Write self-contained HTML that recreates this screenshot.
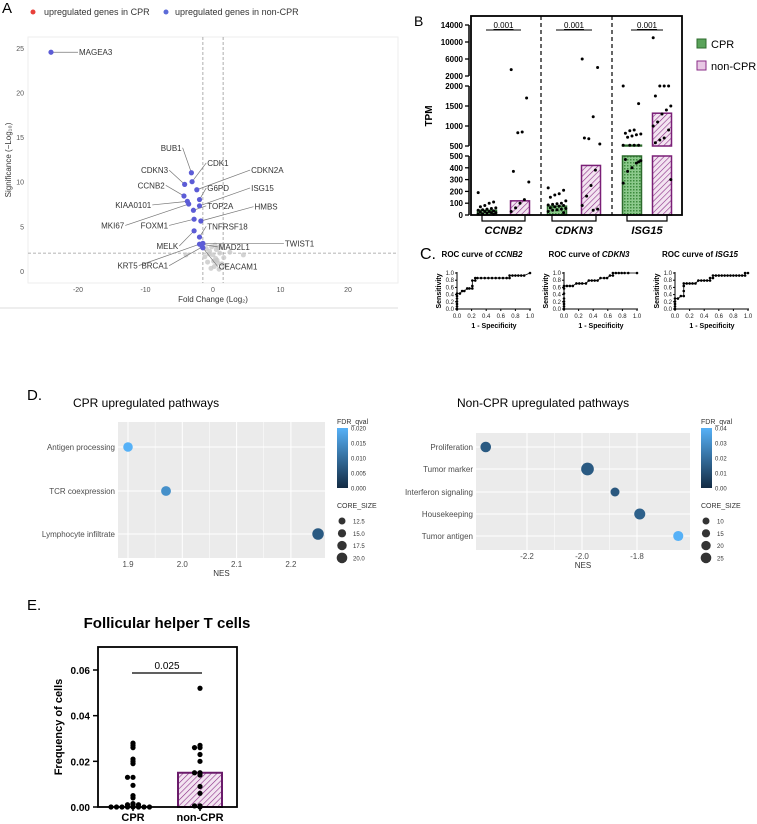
<!DOCTYPE html>
<html><head><meta charset="utf-8">
<style>
html,body{margin:0;padding:0;background:#fff;}
svg{display:block;font-family:"Liberation Sans",Arial,sans-serif;}
</style></head>
<body>
<svg id="fig" width="757" height="824" viewBox="0 0 757 824" xmlns="http://www.w3.org/2000/svg">
<text x="2" y="13" font-size="15">A</text>
<circle cx="33" cy="12" r="2.5" fill="#e8403a"/>
<text x="44" y="15" font-size="9" fill="#333">upregulated genes in CPR</text>
<circle cx="166" cy="12" r="2.5" fill="#5c6bd8"/>
<text x="175" y="15" font-size="9" fill="#333">upregulated genes in non-CPR</text>
<rect x="28" y="37" width="370" height="246" fill="#fff" stroke="#eee"/>
<line x1="0" y1="308" x2="398" y2="308" stroke="#ddd"/>
<g id="volcano"></g>
<text x="213" y="302" font-size="8" fill="#333" text-anchor="middle">Fold Change (Log₂)</text>
<text transform="translate(11,160) rotate(-90)" font-size="8" fill="#333" text-anchor="middle">Significance (−Log₁₀)</text>

<text x="414" y="26" font-size="14">B</text>
<g id="barB"></g>
<text transform="translate(432,116) rotate(-90)" font-size="10" font-weight="bold" text-anchor="middle">TPM</text>
<rect x="697" y="39" width="9" height="9" fill="#5aa35a" stroke="#2d6b2d"/>
<text x="711" y="48" font-size="11">CPR</text>
<rect x="697" y="61" width="9" height="9" fill="#e8c8e4" stroke="#8a2d87"/>
<text x="711" y="70" font-size="11">non-CPR</text>

<text x="420" y="259" font-size="16">C.</text>
<g id="roc"></g>

<text x="27" y="400" font-size="15">D.</text>
<text x="73" y="407" font-size="12">CPR upregulated pathways</text>
<text x="457" y="407" font-size="12">Non-CPR upregulated pathways</text>
<g id="dots"></g>

<text x="27" y="610" font-size="15">E.</text>
<text x="167" y="628" font-size="15" font-weight="bold" text-anchor="middle">Follicular helper T cells</text>
<g id="tfh"></g>
<text transform="translate(62,727) rotate(-90)" font-size="11" font-weight="bold" text-anchor="middle">Frequency of cells</text>

<defs>
<pattern id="hatchP" width="4" height="4" patternUnits="userSpaceOnUse" patternTransform="rotate(45)">
<rect width="4" height="4" fill="#f3e4f1"/><line x1="0" y1="0" x2="0" y2="4" stroke="#8a2d87" stroke-width="1.2"/></pattern>
<pattern id="checkG" width="3" height="3" patternUnits="userSpaceOnUse">
<rect width="3" height="3" fill="#8cc98c"/><rect width="1.5" height="1.5" fill="#3d8a3d"/></pattern>
<linearGradient id="fdrGrad" x1="0" y1="1" x2="0" y2="0"><stop offset="0" stop-color="#132b43"/><stop offset="1" stop-color="#56b1f7"/></linearGradient>
</defs>
</svg>
<script>
const volcanoGenes = ["MAGEA3","BUB1","CDK1","CDKN3","CDKN2A","CCNB2","G6PD","KIAA0101","ISG15","TOP2A","MKI67","FOXM1","HMBS","MELK","TNFRSF18","TWIST1","MAD2L1","KRT5","BRCA1","CEACAM1"];
const volcanoFC = [-24,-3.2,-3.1,-4.2,-2.4,-4.3,-2.0,-3.8,-2.0,-2.9,-3.6,-2.8,-1.8,-2.8,-2.0,-1.5,-1.7,-2.0,-1.6,-1.5];
const volcanoSig = [24.5,11,10,9.7,9.1,8.4,8.0,7.8,7.3,6.8,7.5,5.8,5.6,4.5,3.8,3.1,3.0,3.0,2.7,2.6];
const volcanoLabelFC = [-20,-4.5,-1,-6.5,5.5,-7,-1,-9,5.5,-1,-13,-6.5,6,-5,-1,10.5,0.7,-11,-6.5,0.7];
const volcanoLabelSig = [24.5,13.8,12.1,11.3,11.3,9.6,9.3,7.4,9.3,7.3,5.1,5.1,7.2,2.8,5.0,3.1,2.7,0.6,0.6,0.5];
const grayFC = [-1,-0.5,0,0.3,0.6,1,1.3,-0.8,0.2,0.8,1.6,-0.3,0.5,-1.2,2.5,4.5,0.9,-0.6,0.1,1.1,-4,0.4,1.8,-0.2,0.7];
const graySig = [2.5,2.2,1.8,2.9,1.2,2.0,0.8,1.0,0.5,2.6,1.5,0.3,2.4,1.6,2.1,1.8,0.2,1.9,1.1,2.8,1.8,1.4,0.6,2.7,0.9];
const volcanoXTicks = [-20,-10,0,10,20];
const volcanoYTicks = [0,5,10,15,20,25];

const genesB = ["CCNB2","CDKN3","ISG15"];
const barCPR = [40,75,520];
const barNon = [120,420,1320];
const dotsCPR = [
 [190,110,100,80,70,60,55,50,45,40,35,30,30,25,20,20,15,10,10,5],
 [230,210,180,170,150,120,100,95,90,85,80,75,70,60,55,50,45,40,30,20],
 [2000,1560,900,880,820,800,780,750,720,520,520,520,520,470,460,440,400,370,270,450]
];
const dotsNon = [
 [3500,1700,850,830,370,280,130,100,60,30],
 [6000,4000,1230,680,700,550,380,250,160,80,50,40],
 [11000,2000,2000,2000,1750,1500,1400,1300,1100,1000,900,700,650,580,300]
];
const pValuesB = ["0.001","0.001","0.001"];
const tickTop = [2000,6000,10000,14000];
const tickMid = [500,1000,1500,2000];
const tickLow = [0,100,200,300,400,500];

const rocGenes = ["CCNB2","CDKN3","ISG15"];
const rocFPR = [
 [0,0,0,0,0,0,0,0.04,0.07,0.1,0.14,0.17,0.21,0.21,0.21,0.25,0.25,0.28,0.33,0.38,0.43,0.48,0.53,0.58,0.63,0.68,0.72,0.72,0.76,0.8,0.84,0.88,0.92,1.0],
 [0,0,0,0,0,0,0,0,0.04,0.08,0.12,0.17,0.21,0.25,0.3,0.34,0.38,0.42,0.46,0.5,0.55,0.59,0.63,0.67,0.67,0.71,0.75,0.79,0.83,0.88,1.0],
 [0,0,0,0,0,0.04,0.08,0.12,0.12,0.12,0.12,0.16,0.2,0.24,0.28,0.32,0.36,0.4,0.44,0.48,0.48,0.52,0.52,0.56,0.6,0.64,0.68,0.72,0.76,0.8,0.84,0.88,0.92,0.96,0.96,1.0]
];
const rocTPR = [
 [0,0.07,0.14,0.21,0.29,0.36,0.43,0.43,0.5,0.5,0.57,0.57,0.57,0.64,0.79,0.79,0.86,0.86,0.86,0.86,0.86,0.86,0.86,0.86,0.86,0.86,0.86,0.93,0.93,0.93,0.93,0.93,0.93,1.0],
 [0,0.07,0.14,0.21,0.29,0.43,0.57,0.64,0.64,0.64,0.64,0.71,0.71,0.71,0.71,0.79,0.79,0.79,0.79,0.86,0.86,0.86,0.93,0.93,1.0,1.0,1.0,1.0,1.0,1.0,1.0],
 [0,0.07,0.14,0.21,0.29,0.29,0.36,0.36,0.5,0.64,0.71,0.71,0.71,0.71,0.71,0.79,0.79,0.79,0.79,0.79,0.86,0.86,0.93,0.93,0.93,0.93,0.93,0.93,0.93,0.93,0.93,0.93,0.93,0.93,1.0,1.0]
];
const rocTicks = [0,0.2,0.4,0.6,0.8,1.0];

const cprPathways = ["Antigen processing","TCR coexpression","Lymphocyte infiltrate"];
const cprNES = [1.9,1.97,2.25];
const cprFDR = [0.02,0.015,0.007];
const cprSize = [12,13,20];
const cprXTicks = [1.9,2.0,2.1,2.2];
const nonPathways = ["Proliferation","Tumor marker","Interferon signaling","Housekeeping","Tumor antigen"];
const nonNES = [-2.35,-1.98,-1.88,-1.79,-1.65];
const nonFDR = [0.014,0.014,0.013,0.016,0.04];
const nonSize = [16,26,10,18,14];
const nonXTicks = [-2.2,-2.0,-1.8];

const tfhGroups = ["CPR","non-CPR"];
const tfhBars = [0,0.015];
const tfhCPR = [0.028,0.027,0.026,0.021,0.02,0.019,0.013,0.013,0.0095,0.005,0.004,0.0015,0.0012,0.001,0.001,0.0005,0,0,0,0,0,0,0,0];
const tfhNon = [0.052,0.027,0.026,0.026,0.023,0.02,0.015,0.015,0.014,0.009,0.006,0.0005,0.0005,0];
const tfhTicks = [0,0.02,0.04,0.06];
const tfhP = "0.025";

const NS="http://www.w3.org/2000/svg";
function mk(parent,tag,attrs,text){const e=document.createElementNS(NS,tag);for(const k in attrs)e.setAttribute(k,attrs[k]);if(text!==undefined)e.textContent=text;parent.appendChild(e);return e;}

(function(){
 const g=document.getElementById('volcano');
 const x=v=>213+v*6.75, y=v=>271-v*8.93;
 volcanoXTicks.forEach(t=>{const e=mk(g,'text',{x:x(t),y:292,'font-size':7,fill:'#555','text-anchor':'middle'},t);
  
  });
 volcanoYTicks.forEach(t=>{const e=mk(g,'text',{x:24,y:y(t)+3,'font-size':7,fill:'#555','text-anchor':'end'},t);
  
  });
 [[x(-1.5),37,x(-1.5),283],[x(1.5),37,x(1.5),283],[28,y(2),398,y(2)]].forEach(l=>{const e=mk(g,'line',{x1:l[0],y1:l[1],x2:l[2],y2:l[3],stroke:'#999','stroke-dasharray':'3,2','stroke-width':0.8});
  
  });
 grayFC.forEach((v,i)=>{const e=mk(g,'circle',{cx:x(v),cy:y(graySig[i]),r:2.5,fill:'#c8c8c8','fill-opacity':0.8});
  
  });
 volcanoGenes.forEach((n,i)=>{
  const px=x(volcanoFC[i]),py=y(volcanoSig[i]),lx=x(volcanoLabelFC[i]),ly=y(volcanoLabelSig[i]);
  const l=mk(g,'line',{x1:px,y1:py,x2:lx,y2:ly,stroke:'#777','stroke-width':0.7});
  
  
  const t=mk(g,'text',{x:lx+(volcanoLabelFC[i]<volcanoFC[i]?-1:1),y:ly+3,'font-size':8,fill:'#333','text-anchor':volcanoLabelFC[i]<volcanoFC[i]-0.5?'end':'start'},n);
  if(Math.abs(volcanoLabelFC[i]-volcanoFC[i])<=0.6&&volcanoLabelSig[i]>volcanoSig[i]){t.setAttribute('text-anchor','middle');t.setAttribute('y',ly-1);}
  
  
 });
 volcanoGenes.forEach((n,i)=>{const c=mk(g,'circle',{cx:x(volcanoFC[i]),cy:y(volcanoSig[i]),r:2.6,fill:'#5c5cd6'});
  
  });
})();

(function(){
 const g=document.getElementById('barB');
 const L=471,R=682,T=16,B=215;
 const yv=v=>{ if(v<=500) return 215-v*(59/500); if(v<=2000) return 146-(v-500)*(60/1500); return 76-(v-2000)*(17/4000);};
 const cx=[[487,520],[557,591],[632,662]], bw=19;
 genesB.forEach((gn,i)=>{
  [[barCPR[i],'url(#checkG)','#2d6b2d',cx[i][0],'bar-cpr-'],[barNon[i],'url(#hatchP)','#7a1f77',cx[i][1],'bar-noncpr-']].forEach(b=>{
   const v=b[0],c=b[3];
   const lo=Math.min(v,500);
   const r=mk(g,'rect',{x:c-bw/2,y:yv(lo),width:bw,height:215-yv(lo),fill:b[1],stroke:b[2],'stroke-width':1.5});
   
   
   if(v>500){const r2=mk(g,'rect',{x:c-bw/2,y:yv(v),width:bw,height:146-yv(v),fill:b[1],stroke:b[2],'stroke-width':1.5});
    
    }
  });
  [[dotsCPR[i],cx[i][0],'dot-cpr'],[dotsNon[i],cx[i][1],'dot-noncpr']].forEach(s=>{
   s[0].forEach((v,j)=>{const off=((j*7)%9-4)*2.2;
    const d=mk(g,'circle',{cx:s[1]+off,cy:yv(v),r:1.5,fill:'#000'});
    
    });
  });
  const p=mk(g,'line',{x1:cx[i][0]-1,y1:30,x2:cx[i][1]+1,y2:30,stroke:'#000'});
  
  
  const pt=mk(g,'text',{x:(cx[i][0]+cx[i][1])/2,y:28,'font-size':8,'text-anchor':'middle','text-decoration':'underline'},pValuesB[i]);
  
  
  const br=mk(g,'path',{d:`M${cx[i][0]-5},215 V221 H${cx[i][1]+5} V215`,fill:'none',stroke:'#000','stroke-width':1.2});
  
  
  const lb=mk(g,'text',{x:(cx[i][0]+cx[i][1])/2,y:234,'font-size':11,'font-weight':'bold','font-style':'italic','text-anchor':'middle'},gn);
  
  
 });
 const box=mk(g,'rect',{x:L,y:T,width:R-L,height:B-T,fill:'none',stroke:'#000','stroke-width':1.8});
 
 
 [541,612].forEach(xx=>{const d=mk(g,'line',{x1:xx,y1:T,x2:xx,y2:B,stroke:'#000','stroke-dasharray':'4,3','stroke-width':1.2});
  
  });
 mk(g,'rect',{x:462,y:T,width:8,height:B-T+2,fill:'#fff'});
 [[76,25],[146,86],[215,156]].forEach(s=>{const a=mk(g,'line',{x1:469,y1:s[0],x2:469,y2:s[1],stroke:'#000','stroke-width':1.5});
  
  });
 [[tickTop,v=>76-(v-2000)*(17/4000)],[tickMid,v=>146-(v-500)*(60/1500)],[tickLow,v=>215-v*(59/500)]].forEach(s=>{
  s[0].forEach(v=>{const yy=s[1](v);mk(g,'line',{x1:465,y1:yy,x2:469,y2:yy,stroke:'#000','stroke-width':1.3});
   const t=mk(g,'text',{x:463,y:yy+3,'font-size':8,'font-weight':'bold','text-anchor':'end'},v);
   
   });
 });
})();

(function(){
 const g=document.getElementById('roc');
 const origins=[457,564,675];
 rocGenes.forEach((gn,i)=>{
  const ox=origins[i], x=v=>ox+v*73, y=v=>309-v*36;
  const t=mk(g,'text',{x:ox+25,y:257,'font-size':8,'font-weight':'bold','text-anchor':'middle'});
  
  
  t.textContent='ROC curve of ';
  mk(t,'tspan',{'font-style':'italic'},gn);
  mk(g,'line',{x1:ox,y1:309,x2:ox,y2:272,stroke:'#000'});
  mk(g,'line',{x1:ox,y1:309,x2:ox+74,y2:309,stroke:'#000'});
  rocTicks.forEach(v=>{
   mk(g,'line',{x1:ox-2,y1:y(v),x2:ox,y2:y(v),stroke:'#000'});
   mk(g,'line',{x1:x(v),y1:309,x2:x(v),y2:311,stroke:'#000'});
   const a=mk(g,'text',{x:ox-3,y:y(v)+2,'font-size':6,'text-anchor':'end',fill:'#222'},v.toFixed(1));
   
   
   const b=mk(g,'text',{x:x(v),y:318,'font-size':6,'text-anchor':'middle',fill:'#222'},v.toFixed(1));
   
   
  });
  const yl=mk(g,'text',{transform:`translate(${ox-16},291) rotate(-90)`,'font-size':7,'font-weight':'bold','text-anchor':'middle'},'Sensitivity');
  
  
  const xl=mk(g,'text',{x:ox+37,y:328,'font-size':7,'font-weight':'bold','text-anchor':'middle'},'1 - Specificity');
  
  
  const pts=rocFPR[i].map((f,j)=>x(f)+','+y(rocTPR[i][j])).join(' ');
  const pl=mk(g,'polyline',{points:pts,fill:'none',stroke:'#000','stroke-width':0.8});
  
  
  rocFPR[i].forEach((f,j)=>{const c=mk(g,'circle',{cx:x(f),cy:y(rocTPR[i][j]),r:1.3,fill:'#000'});
   
   });
 });
})();

function fdrColor(t){const a=[19,43,67],b=[86,177,247];return `rgb(${a.map((c,k)=>Math.round(c+(b[k]-c)*t)).join(',')})`;}
function dotPlot(o){
 const g=document.getElementById('dots');
 const bg=mk(g,'rect',{x:o.L,y:o.T,width:o.W,height:o.H,fill:'#ebebeb'});
 
 
 const x=v=>o.x0+(v-o.v0)*o.k;
 o.ticks.forEach((t,i)=>{
  mk(g,'line',{x1:x(t),y1:o.T,x2:x(t),y2:o.T+o.H,stroke:'#fff','stroke-width':1});
  if(i<o.ticks.length-1){const m=(t+o.ticks[i+1])/2;mk(g,'line',{x1:x(m),y1:o.T,x2:x(m),y2:o.T+o.H,stroke:'#fff','stroke-width':0.5});}
  const tt=mk(g,'text',{x:x(t),y:o.T+o.H+9,'font-size':8,fill:'#4d4d4d','text-anchor':'middle'},t.toFixed(1));
  
  
 });
 const xl=mk(g,'text',{x:o.L+o.W/2,y:o.T+o.H+18,'font-size':8,fill:'#333','text-anchor':'middle'},'NES');
 
 
 o.cats.forEach((c,i)=>{
  const yy=o.ys[i];
  mk(g,'line',{x1:o.L,y1:yy,x2:o.L+o.W,y2:yy,stroke:'#fff','stroke-width':1});
  const t=mk(g,'text',{x:o.L-3,y:yy+3,'font-size':8,fill:'#4d4d4d','text-anchor':'end'},c);
  
  
 });
 o.cats.forEach((c,i)=>{
  const r=1.5+Math.sqrt(o.size[i])*0.95;
  const d=mk(g,'circle',{cx:x(o.nes[i]),cy:o.ys[i],r:r,fill:fdrColor(o.fdr[i]/o.fmax)});
  
  
 });
 const lx=o.lx;
 const ft=mk(g,'text',{x:lx,y:o.ly,'font-size':7,fill:'#333'},'FDR_qval');
 
 
 const cb=mk(g,'rect',{x:lx,y:o.ly+4,width:11,height:60,fill:'url(#fdrGrad)'});
 
 
 o.ftick.forEach((v,i)=>{const yy=o.ly+64-i*(60/(o.ftick.length-1));
  const t=mk(g,'text',{x:lx+14,y:yy+2.5,'font-size':6,fill:'#333'},v);
  
  });
 const st=mk(g,'text',{x:lx,y:o.ly+84,'font-size':7,fill:'#333'},'CORE_SIZE');
 
 
 o.sizes.forEach((s,i)=>{const yy=o.ly+97+i*12.3;
  mk(g,'circle',{cx:lx+5,cy:yy,r:3.5+i*0.6,fill:'#333'});
  const t=mk(g,'text',{x:lx+16,y:yy+2.5,'font-size':6,fill:'#333'},s);
  
  });
}
dotPlot({pre:'cpr',L:118,T:422,W:207,H:136,x0:128,v0:1.9,k:543,ticks:cprXTicks,cats:cprPathways,ys:[447,491,534],nes:cprNES,fdr:cprFDR,fmax:0.02,size:cprSize,lx:337,ly:424,ftick:['0.000','0.005','0.010','0.015','0.020'],sizes:['12.5','15.0','17.5','20.0']});
dotPlot({pre:'noncpr',L:476,T:433,W:214,H:117,x0:527,v0:-2.2,k:275,ticks:nonXTicks,cats:nonPathways,ys:[447,469,492,514,536],nes:nonNES,fdr:nonFDR,fmax:0.04,size:nonSize,lx:701,ly:424,ftick:['0.00','0.01','0.02','0.03','0.04'],sizes:['10','15','20','25']});

(function(){
 const g=document.getElementById('tfh');
 const y=v=>807-v*(137/0.06);
 const cx=[133,200];
 const bar=mk(g,'rect',{x:178,y:y(tfhBars[1]),width:44,height:807-y(tfhBars[1]),fill:'url(#hatchP)',stroke:'#6a1b6a','stroke-width':2});
 
 
 [[tfhCPR,cx[0],'dot-cpr-tfh'],[tfhNon,cx[1],'dot-noncpr-tfh']].forEach(s=>{
  const seen={};
  s[0].forEach(v=>{const key=Math.round(v*2000);seen[key]=(seen[key]||0)+1;const n=seen[key];
   const off=(n%2?1:-1)*Math.floor(n/2)*5.5;
   const d=mk(g,'circle',{cx:s[1]+off,cy:y(v),r:2.6,fill:'#000'});
   
   });
 });
 const fr=mk(g,'rect',{x:98,y:647,width:139,height:160,fill:'none',stroke:'#000','stroke-width':1.8});
 
 
 tfhTicks.forEach(v=>{mk(g,'line',{x1:93,y1:y(v),x2:98,y2:y(v),stroke:'#000','stroke-width':1.5});
  const t=mk(g,'text',{x:90,y:y(v)+4,'font-size':10,'font-weight':'bold','text-anchor':'end'},v.toFixed(2));
  
  });
 tfhGroups.forEach((gn,i)=>{mk(g,'line',{x1:cx[i],y1:807,x2:cx[i],y2:811,stroke:'#000','stroke-width':1.5});
  const t=mk(g,'text',{x:cx[i],y:821,'font-size':11,'font-weight':'bold','text-anchor':'middle'},gn);
  
  });
 const sl=mk(g,'line',{x1:132,y1:673,x2:202,y2:673,stroke:'#000','stroke-width':1.2});
 
 
 const pt=mk(g,'text',{x:167,y:669,'font-size':10,'text-anchor':'middle'},tfhP);
 
 
})();
</script>
</body></html>
